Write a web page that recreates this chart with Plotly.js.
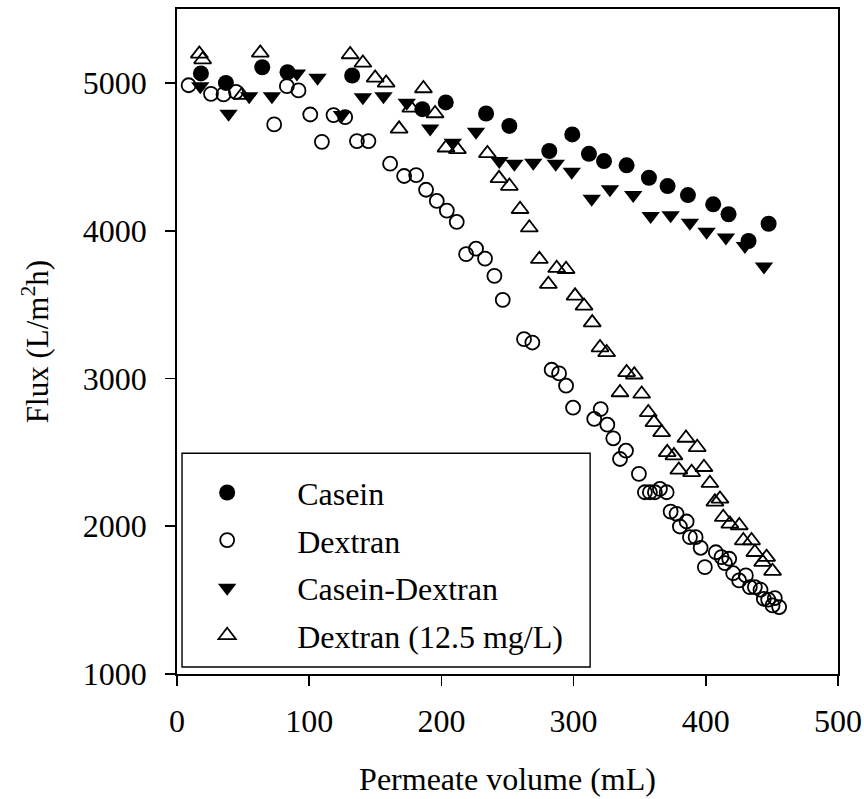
<!DOCTYPE html>
<html>
<head>
<meta charset="utf-8">
<script src="https://cdn.plot.ly/plotly-3.0.1.min.js"></script>
<style>
  html, body { margin: 0; padding: 0; background: #fff; }
  #chart { width: 864px; height: 799px; }
</style>
</head>
<body>
<div id="chart"></div>
<script>
// Permeate flux vs. permeate volume for four feed solutions

// Casein
const caseinVol  = [18.1, 37.0, 64.5, 83.6, 132.5, 185.6, 203.3, 233.8, 251.4, 281.6, 299.0, 311.6, 323.0, 340.1, 357.0, 371.1, 386.5, 405.6, 417.2, 432.3, 447.5];
const caseinFlux = [5064, 5000, 5106, 5072, 5050, 4822, 4868, 4793, 4709, 4539, 4651, 4520, 4471, 4442, 4358, 4302, 4241, 4178, 4111, 3930, 4047];

// Dextran
const dextranVol  = [8.8, 25.7, 35.2, 44.6, 73.5, 83.1, 91.9, 100.8, 109.6, 118.4, 127.2, 136.1, 144.8, 161.2,
                     171.8, 180.9, 188.4, 196.5, 204.1, 211.6, 218.7, 226.2, 233.0, 240.1, 246.4, 262.5, 268.8,
                     283.4, 289.0, 294.3, 299.6, 315.6, 320.5, 325.5, 330.0, 335.1, 339.6, 349.4, 353.9, 357.7,
                     361.5, 365.3, 370.4, 373.4, 377.9, 380.4, 385.5, 388.0, 392.3, 396.1, 399.3, 407.6, 411.9,
                     414.5, 417.7, 420.7, 425.2, 430.3, 433.3, 437.1, 441.4, 443.9, 447.2, 450.5, 452.2, 455.5];
const dextranFlux = [4984, 4926, 4922, 4939, 4719, 4978, 4949, 4786, 4601, 4782, 4768, 4606, 4606, 4453,
                     4370, 4376, 4277, 4201, 4136, 4059, 3841, 3878, 3811, 3694, 3532, 3266, 3243,
                     3059, 3034, 2951, 2802, 2726, 2793, 2687, 2595, 2455, 2511, 2354, 2230, 2230,
                     2230, 2253, 2230, 2099, 2084, 1998, 2032, 1926, 1926, 1854, 1723, 1824, 1791,
                     1750, 1780, 1682, 1633, 1667, 1588, 1588, 1570, 1509, 1503, 1464, 1514, 1453];

// Casein-Dextran
const mixVol  = [17.6, 39.0, 54.6, 71.8, 90.7, 106.3, 124.7, 140.6, 156.2, 173.8, 191.5, 208.6, 226.2, 243.8,
                 255.2, 269.5, 286.5, 298.6, 313.7, 327.5, 345.1, 358.3, 373.4, 388.0, 400.6, 415.2, 429.6, 444.0];
const mixFlux = [4978, 4791, 4910, 4910, 5064, 5034, 4782, 4903, 4910, 4865, 4692, 4595, 4669, 4471,
                 4453, 4459, 4453, 4399, 4216, 4280, 4241, 4099, 4105, 4054, 3993, 3953, 3897, 3757];

// Dextran (12.5 mg/L)
const dexLowVol  = [16.9, 19.4, 49.1, 63.0, 131.0, 140.6, 149.9, 158.2, 168.0, 176.9, 186.4, 195.2, 203.5, 212.1,
                    234.8, 243.6, 251.4, 259.5, 266.5, 274.1, 280.9, 287.2, 294.3, 301.1, 307.9, 314.1, 320.0,
                    325.0, 335.1, 340.1, 345.9, 351.5, 356.5, 360.8, 366.6, 370.8, 375.9, 379.6, 385.0, 389.3,
                    393.5, 398.6, 403.1, 406.9, 410.7, 413.2, 418.2, 425.3, 428.4, 434.6, 437.1, 443.0, 446.0, 450.5];
const dexLowFlux = [5196, 5158, 4917, 5203, 5192, 5135, 5034, 5000, 4689, 4831, 4962, 4793, 4561, 4550,
                    4523, 4354, 4302, 4145, 4020, 3807, 3638, 3746, 3739, 3559, 3491, 3378, 3209,
                    3176, 2905, 3041, 3025, 2895, 2770, 2703, 2635, 2500, 2478, 2381, 2597, 2365,
                    2534, 2399, 2291, 2165, 2185, 2061, 2016, 2005, 1903, 1903, 1824, 1757, 1791, 1696];

const serif = 'Liberation Serif, Times New Roman, serif';

const traces = [
  { x: caseinVol, y: caseinFlux, name: 'Casein', legendgroup: 'a',
    marker: { symbol: 'circle', size: 16, color: '#000', line: { width: 0 } } },
  { x: dextranVol, y: dextranFlux, name: 'Dextran', legendgroup: 'b',
    marker: { symbol: 'circle-open', size: 14, color: '#000', line: { width: 1.8, color: '#000' } } },
  { x: mixVol, y: mixFlux, name: 'Casein-Dextran', legendgroup: 'c',
    marker: { symbol: 'triangle-down', size: 16, color: '#000', line: { width: 0 } } },
  { x: dexLowVol, y: dexLowFlux, name: 'Dextran (12.5 mg/L)', legendgroup: 'd',
    marker: { symbol: 'triangle-up-open', size: 15, color: '#000', line: { width: 1.8, color: '#000' } } }
].map(t => Object.assign({ type: 'scatter', mode: 'markers', cliponaxis: false }, t));

const axisCommon = {
  showgrid: false, zeroline: false,
  showline: true, linecolor: '#000', linewidth: 1.8, mirror: true,
  ticks: 'outside', ticklen: 10, tickwidth: 1.8, tickcolor: '#000',
  tickfont: { family: serif, size: 32, color: '#000' }
};

const layout = {
  width: 864, height: 799,
  paper_bgcolor: '#fff', plot_bgcolor: '#fff',
  margin: { l: 177, r: 26, t: 9, b: 125 },
  font: { family: serif, color: '#000' },
  xaxis: Object.assign({}, axisCommon, {
    range: [0, 500], tickvals: [0, 100, 200, 300, 400, 500],
    ticklabelstandoff: 8,
    title: { text: 'Permeate volume (mL)', font: { family: serif, size: 32 }, standoff: 29 }
  }),
  yaxis: Object.assign({}, axisCommon, {
    range: [1000, 5500], tickvals: [1000, 2000, 3000, 4000, 5000],
    ticklabelstandoff: 12,
    title: { text: 'Flux (L/m<sup>2</sup>h)', font: { family: serif, size: 31 }, standoff: 25 }
  }),
  showlegend: true,
  legend: {
    x: -0.03, y: 0.314, xanchor: 'left', yanchor: 'top',
    bgcolor: 'rgba(0,0,0,0)', borderwidth: 0,
    itemwidth: 130, tracegroupgap: 3,
    font: { family: serif, size: 32, color: '#000' }
  },
  shapes: [
    { type: 'rect', xref: 'paper', yref: 'paper', x0: 0.0076, x1: 0.625, y0: 0.0105, y1: 0.332,
      line: { color: '#000', width: 1.4 }, fillcolor: 'rgba(0,0,0,0)', layer: 'below' }
  ]
};

Plotly.newPlot('chart', traces, layout, { staticPlot: true, displayModeBar: false });
</script>
</body>
</html>
